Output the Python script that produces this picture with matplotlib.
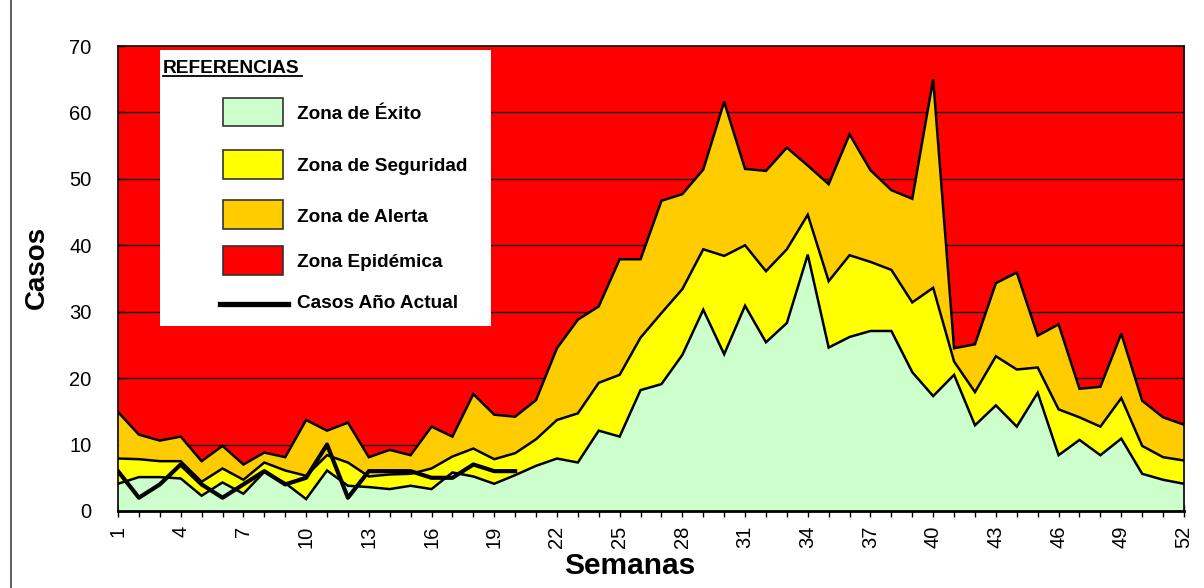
import matplotlib
matplotlib.use("Agg")
import matplotlib.pyplot as plt
from matplotlib.patches import Rectangle
from matplotlib.lines import Line2D
import numpy as np

plt.rcParams['font.family'] = ['Liberation Sans', 'DejaVu Sans']

# Epidemiological week numbers
semanas = list(range(1, 53))

# Upper limit of each channel zone (cases per week)
zona_exito = [4.1, 5.1, 5.1, 4.9, 2.3, 4.3, 2.6, 5.9, 4.2, 1.8,
              6.1, 3.8, 3.6, 3.3, 3.8, 3.3, 5.8, 5.2, 4.1, 5.4,
              6.8, 7.9, 7.3, 12.1, 11.2, 18.2, 19.1, 23.5, 30.3, 23.6,
              30.9, 25.4, 28.3, 38.6, 24.6, 26.2, 27.1, 27.1, 20.9, 17.3,
              20.5, 12.9, 15.9, 12.7, 17.8, 8.4, 10.7, 8.4, 10.9, 5.6,
              4.7, 4.1]
zona_seguridad = [7.9, 7.8, 7.5, 7.5, 4.4, 6.4, 4.7, 7.3, 6.1, 5.3,
                  8.4, 7.3, 5.2, 5.5, 5.6, 6.4, 8.2, 9.4, 7.8, 8.7,
                  10.8, 13.7, 14.7, 19.3, 20.5, 26.1, 29.8, 33.4, 39.4, 38.4,
                  40.0, 36.1, 39.4, 44.6, 34.6, 38.5, 37.5, 36.3, 31.4, 33.6,
                  22.5, 17.9, 23.3, 21.3, 21.6, 15.3, 14.1, 12.7, 17.0, 9.8,
                  8.1, 7.6]
zona_alerta = [14.9, 11.5, 10.6, 11.2, 7.5, 9.8, 7.0, 8.8, 8.1, 13.7,
               12.1, 13.3, 8.1, 9.2, 8.4, 12.7, 11.2, 17.6, 14.5, 14.2,
               16.7, 24.5, 28.8, 30.8, 37.9, 37.9, 46.7, 47.7, 51.4, 61.6,
               51.5, 51.2, 54.7, 52.0, 49.2, 56.7, 51.3, 48.3, 47.0, 65.0,
               24.5, 25.1, 34.3, 35.9, 26.4, 28.1, 18.4, 18.7, 26.7, 16.6,
               14.1, 13.0]

# Cases reported in the current year
casos_actual = [6, 2, 4, 7, 4, 2, 4, 6, 4, 5, 10, 2, 6, 6, 6, 5, 5, 7, 6, 6]

y_max = 70
y_ticks = list(range(0, 71, 10))
x_tick_labels = list(range(1, 53, 3))

c_exito = '#CCFFCC'
c_seguridad = '#FFFF00'
c_alerta = '#FFCC00'
c_epidemica = '#FF0000'

W, H = 1204, 588
fig = plt.figure(figsize=(W / 100, H / 100), dpi=100)
ax = fig.add_axes([118 / W, 1 - 511 / H, (1184 - 118) / W, (511 - 46) / H])

x = np.array(semanas)
exito = np.array(zona_exito)
seg = np.array(zona_seguridad)
ale = np.array(zona_alerta)

ax.fill_between(x, ale, y_max, color=c_epidemica, lw=0, zorder=1)
for yv in y_ticks[1:-1]:
    ax.axhline(yv, color='black', lw=0.9, zorder=1.5)
ax.fill_between(x, seg, ale, color=c_alerta, lw=0, zorder=2)
ax.fill_between(x, exito, seg, color=c_seguridad, lw=0, zorder=2)
ax.fill_between(x, 0, exito, color=c_exito, lw=0, zorder=2)
for serie in (exito, seg, ale):
    ax.plot(x, serie, color='black', lw=1.8, zorder=3, solid_joinstyle='miter')

sem_act = semanas[:len(casos_actual)]
ax.plot(sem_act, casos_actual, color='black', lw=3.0, zorder=4)

ax.set_xlim(1, 52)
ax.set_ylim(0, y_max)
ax.set_yticks(y_ticks)
ax.set_xticks(x_tick_labels)
ax.set_xticks(semanas, minor=True)
ax.set_xticklabels([str(v) for v in x_tick_labels], rotation=90,
                   fontsize=14.5, va='top', ha='center')
ax.set_yticklabels([str(v) for v in y_ticks], fontsize=14.5)
ax.tick_params(axis='x', which='both', direction='inout', length=9,
               width=1.0, pad=6, colors='black')
ax.tick_params(axis='y', direction='in', length=5, width=1.0, pad=19)
for s in ax.spines.values():
    s.set_color('black')
    s.set_linewidth(1.2)
    s.set_zorder(5)
ax.spines['bottom'].set_linewidth(2.0)

ax.set_ylabel('Casos', fontsize=20, fontweight='bold', labelpad=14)
ax.yaxis.label.set_y((511 - 267) / (511 - 46))
ax.set_xlabel('Semanas', fontsize=21.5, fontweight='bold', labelpad=3)
ax.xaxis.label.set_x((630 - 118) / (1184 - 118))


def fx(px):
    return px / W


def fy(py):
    return 1 - py / H


# Legend panel
fig.patches.append(Rectangle((fx(160), fy(326)), fx(491) - fx(160),
                             fy(50) - fy(326), transform=fig.transFigure,
                             facecolor='white', edgecolor='none', zorder=10))
fig.text(fx(163), fy(73), 'REFERENCIAS', fontsize=13.8, fontweight='bold',
         ha='left', va='baseline', zorder=11)
fig.lines.append(Line2D([fx(163), fx(302)], [fy(76), fy(76)],
                        transform=fig.transFigure, color='black', lw=1.3,
                        zorder=11))

items = [(c_exito, 'Zona de Éxito', 112, 115),
         (c_seguridad, 'Zona de Seguridad', 164.5, 166.5),
         (c_alerta, 'Zona de Alerta', 214, 217),
         (c_epidemica, 'Zona Epidémica', 260.5, 262.5)]
for color, label, cy, ty in items:
    fig.patches.append(Rectangle((fx(223), fy(cy + 14.5)), fx(283) - fx(223),
                                 fy(cy - 14.5) - fy(cy + 14.5),
                                 transform=fig.transFigure, facecolor=color,
                                 edgecolor='#333333', lw=1.2, zorder=11))
    fig.text(fx(297), fy(ty), label, fontsize=13.7, fontweight='bold',
             ha='left', va='center', zorder=11)

fig.lines.append(Line2D([fx(220), fx(288)], [fy(303.5), fy(303.5)],
                        transform=fig.transFigure, color='black', lw=3.8,
                        zorder=11))
fig.text(fx(297), fy(304), 'Casos Año Actual', fontsize=13.7,
         fontweight='bold', ha='left', va='center', zorder=11)

# Outer frame line on the left
fig.lines.append(Line2D([fx(11), fx(11)], [0, 1], transform=fig.transFigure,
                        color='#444444', lw=1.2))

fig.savefig('out.png', dpi=100)
